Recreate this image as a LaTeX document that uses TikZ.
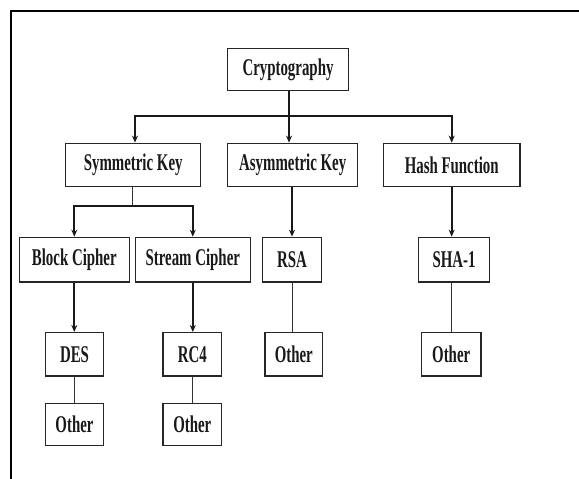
\documentclass[tikz,border=0pt]{standalone}
\usepackage{fontspec}
\setmainfont[FakeStretch=0.62]{Liberation Serif}
\usetikzlibrary{arrows.meta}
\begin{document}
\begin{tikzpicture}[x=1pt,y=-1pt,
  box/.style={draw=black!85,line width=1.4pt,rectangle,inner sep=0pt,
    font=\fontsize{24}{24}\selectfont\bfseries,text=black!90},
  arr/.style={line width=1.9pt,draw=black!90,-{Stealth[length=7pt,width=6pt]}},
  thinln/.style={line width=0.9pt,draw=black!80},
  busln/.style={line width=1.9pt,draw=black!90}]
\useasboundingbox (0,0) rectangle (579,479);
\draw[line width=1.8pt] (11,479) -- (11,11) -- (580,11);
% level 0
\node[box,minimum width=120.7pt,minimum height=42.4pt] (crypto) at (288,69.5) {Cryptography};
% level 1
\node[box,minimum width=135pt,minimum height=43.4pt] (sym) at (133.2,165) {Symmetric Key};
\node[box,minimum width=130pt,minimum height=43.4pt] (asym) at (292.7,165) {Asymmetric Key};
\node[box,minimum width=136.7pt,minimum height=43.4pt] (hash) at (451.7,165) {Hash Function};
% level 2
\node[box,minimum width=110pt,minimum height=44.7pt] (block) at (74.3,259.7) {Block Cipher};
\node[box,minimum width=115pt,minimum height=44.7pt] (stream) at (192.8,259.7) {Stream Cipher};
\node[box,minimum width=59pt,minimum height=44.7pt] (rsa) at (292,259.7) {RSA};
\node[box,minimum width=71.4pt,minimum height=44.7pt] (sha) at (454,259.7) {SHA-1};
% level 3
\node[box,minimum width=58.4pt,minimum height=43.3pt] (des) at (74.5,354.3) {DES};
\node[box,minimum width=58.7pt,minimum height=43.3pt] (rc4) at (192.3,354.3) {RC4};
\node[box,minimum width=57.7pt,minimum height=43.3pt] (oth1) at (293.8,354.3) {Other};
\node[box,minimum width=59.7pt,minimum height=43.3pt] (oth2) at (451.2,354.3) {Other};
% level 4
\node[box,minimum width=58.4pt,minimum height=42pt] (oth3) at (74.5,424.7) {Other};
\node[box,minimum width=58.7pt,minimum height=42pt] (oth4) at (192.3,424.7) {Other};
% connectors level 0 -> 1
\coordinate (bus) at (289,115.7);
\coordinate (busL) at (135,115.7);
\draw[busln] (crypto.south -| bus) -- (bus);
\draw[arr] (bus) -- (bus |- asym.north);
\draw[arr] (bus) -- (busL) -- (busL |- sym.north);
\draw[arr] (bus) -| (hash.north);
% symmetric -> block/stream
\coordinate (sbus) at (132.3,205.7);
\draw[thinln] (sym.south -| sbus) -- (sbus);
\draw[arr] (sbus) -| (block.north);
\draw[arr] (sbus) -| (stream.north);
% asym -> rsa, hash -> sha
\draw[arr] (asym.south -| rsa.north) -- (rsa.north);
\draw[arr] (hash.south) -- (hash.south |- sha.north);
% level 2 -> 3
\draw[arr] (block.south) -- (block.south |- des.north);
\draw[arr] (stream.south) -- (stream.south |- rc4.north);
\draw[thinln] (rsa.south) -- (rsa.south |- oth1.north);
\draw[thinln] (oth2.north) -- (oth2.north |- sha.south);
% level 3 -> 4
\draw[thinln] (des.south) -- (oth3.north);
\draw[thinln] (rc4.south) -- (oth4.north);
\end{tikzpicture}
\end{document}
